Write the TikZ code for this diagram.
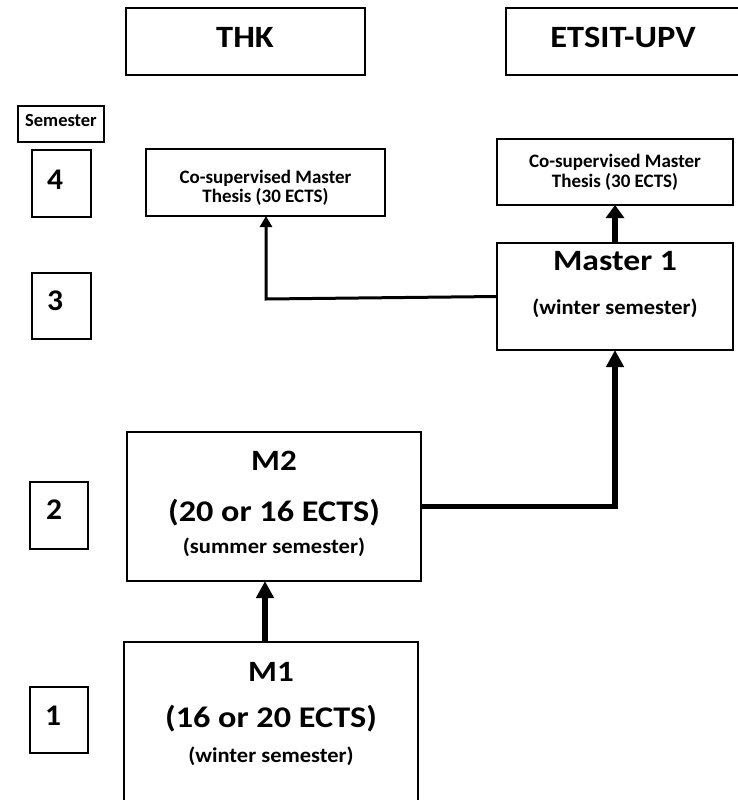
\documentclass[tikz,border=0pt]{standalone}
\usepackage{fontspec}
\usepackage{graphicx}
\setmainfont{Carlito}
\usetikzlibrary{arrows.meta}
\newcommand\hstretch[2]{\scalebox{#1}[1]{#2}}
\begin{document}
\begin{tikzpicture}[x=1pt,y=-1pt,
  box/.style={draw, line width=1.2pt, inner sep=0pt, outer sep=0pt, anchor=north west},
  txt/.style={anchor=base, inner sep=0pt, font=\bfseries\fontsize{#1}{#1}\selectfont},
  bigarrow/.style={line width=5.5pt, -{Triangle[width=17pt,length=17pt]}},
  midarrow/.style={line width=5.5pt, -{Triangle[width=18pt,length=13pt]}},
  thinarrow/.style={line width=3pt, -{Triangle[width=12pt,length=11pt]}}
]
\useasboundingbox (0,0) rectangle (737,800);
% header boxes
\node[box, minimum width=239pt, minimum height=67pt] (thk) at (126,8) {};
\node[box, minimum width=235pt, minimum height=67pt] (etsit) at (506,8) {};
\node[txt=31] (thkt) at (245,48) {\hstretch{1.11}{THK}};
\node[txt=31] (etsitt) at (623,48) {\hstretch{1.11}{ETSIT-UPV}};
% semester column
\node[box, minimum width=86pt, minimum height=36pt] (sem) at (18,106) {};
\node[txt=18.5] (semt) at (61,126) {Semester};
\node[box, minimum width=59pt, minimum height=67pt] (s4) at (32,150) {};
\node[box, minimum width=59pt, minimum height=66pt] (s3) at (32,273) {};
\node[box, minimum width=58pt, minimum height=67pt] (s2) at (30,482) {};
\node[box, minimum width=58pt, minimum height=66pt] (s1) at (30,687) {};
\node[txt=30] (n4) at (55,189) {\hstretch{1.05}{4}};
\node[txt=30] (n3) at (55,310) {\hstretch{1.05}{3}};
\node[txt=30] (n2) at (54,519) {\hstretch{1.05}{2}};
\node[txt=30] (n1) at (53,725) {\hstretch{1.05}{1}};
% thesis boxes
\node[box, minimum width=239pt, minimum height=67pt] (cosL) at (146,149) {};
\node[txt=19] (cosLa) at (265.5,183) {Co-supervised Master};
\node[txt=19] (cosLb) at (265.5,202) {Thesis (30 ECTS)};
\node[box, minimum width=236pt, minimum height=66pt] (cosR) at (497,139) {};
\node[txt=19] (cosRa) at (615,167) {Co-supervised Master};
\node[txt=19] (cosRb) at (615,187) {Thesis (30 ECTS)};
% Master 1
\node[box, minimum width=236pt, minimum height=107pt] (m1b) at (497,243) {};
\node[txt=29.5] (m1ba) at (615,270) {\hstretch{1.14}{Master 1}};
\node[txt=21] (m1bb) at (615,314) {\hstretch{1.07}{(winter semester)}};
% M2
\node[box, minimum width=294pt, minimum height=149pt] (M2) at (127,432) {};
\node[txt=29.5] (M2a) at (274,470) {\hstretch{1.12}{M2}};
\node[txt=30] (M2b) at (274,521) {\hstretch{1.14}{(20 or 16 ECTS)}};
\node[txt=21] (M2c) at (274,553) {\hstretch{1.075}{(summer semester)}};
% M1
\node[box, minimum width=294pt, minimum height=180pt] (M1) at (124,642) {};
\node[txt=29.5] (M1a) at (271,681) {\hstretch{1.12}{M1}};
\node[txt=30] (M1b) at (271,727) {\hstretch{1.14}{(16 or 20 ECTS)}};
\node[txt=21] (M1c) at (271,762) {\hstretch{1.07}{(winter semester)}};
% connectors
\coordinate (c1) at (266,299);
\draw[thinarrow] (m1b.west) -- (c1) -- (c1 |- cosL.south);
\draw[midarrow] (m1b.north) -- (cosR.south);
\draw[bigarrow] (M2.east) -- (M2.east -| m1b.south) -- (m1b.south);
\coordinate (c3) at (265,0);
\draw[bigarrow] (M1.north -| c3) -- (M2.south -| c3);
\end{tikzpicture}
\end{document}
